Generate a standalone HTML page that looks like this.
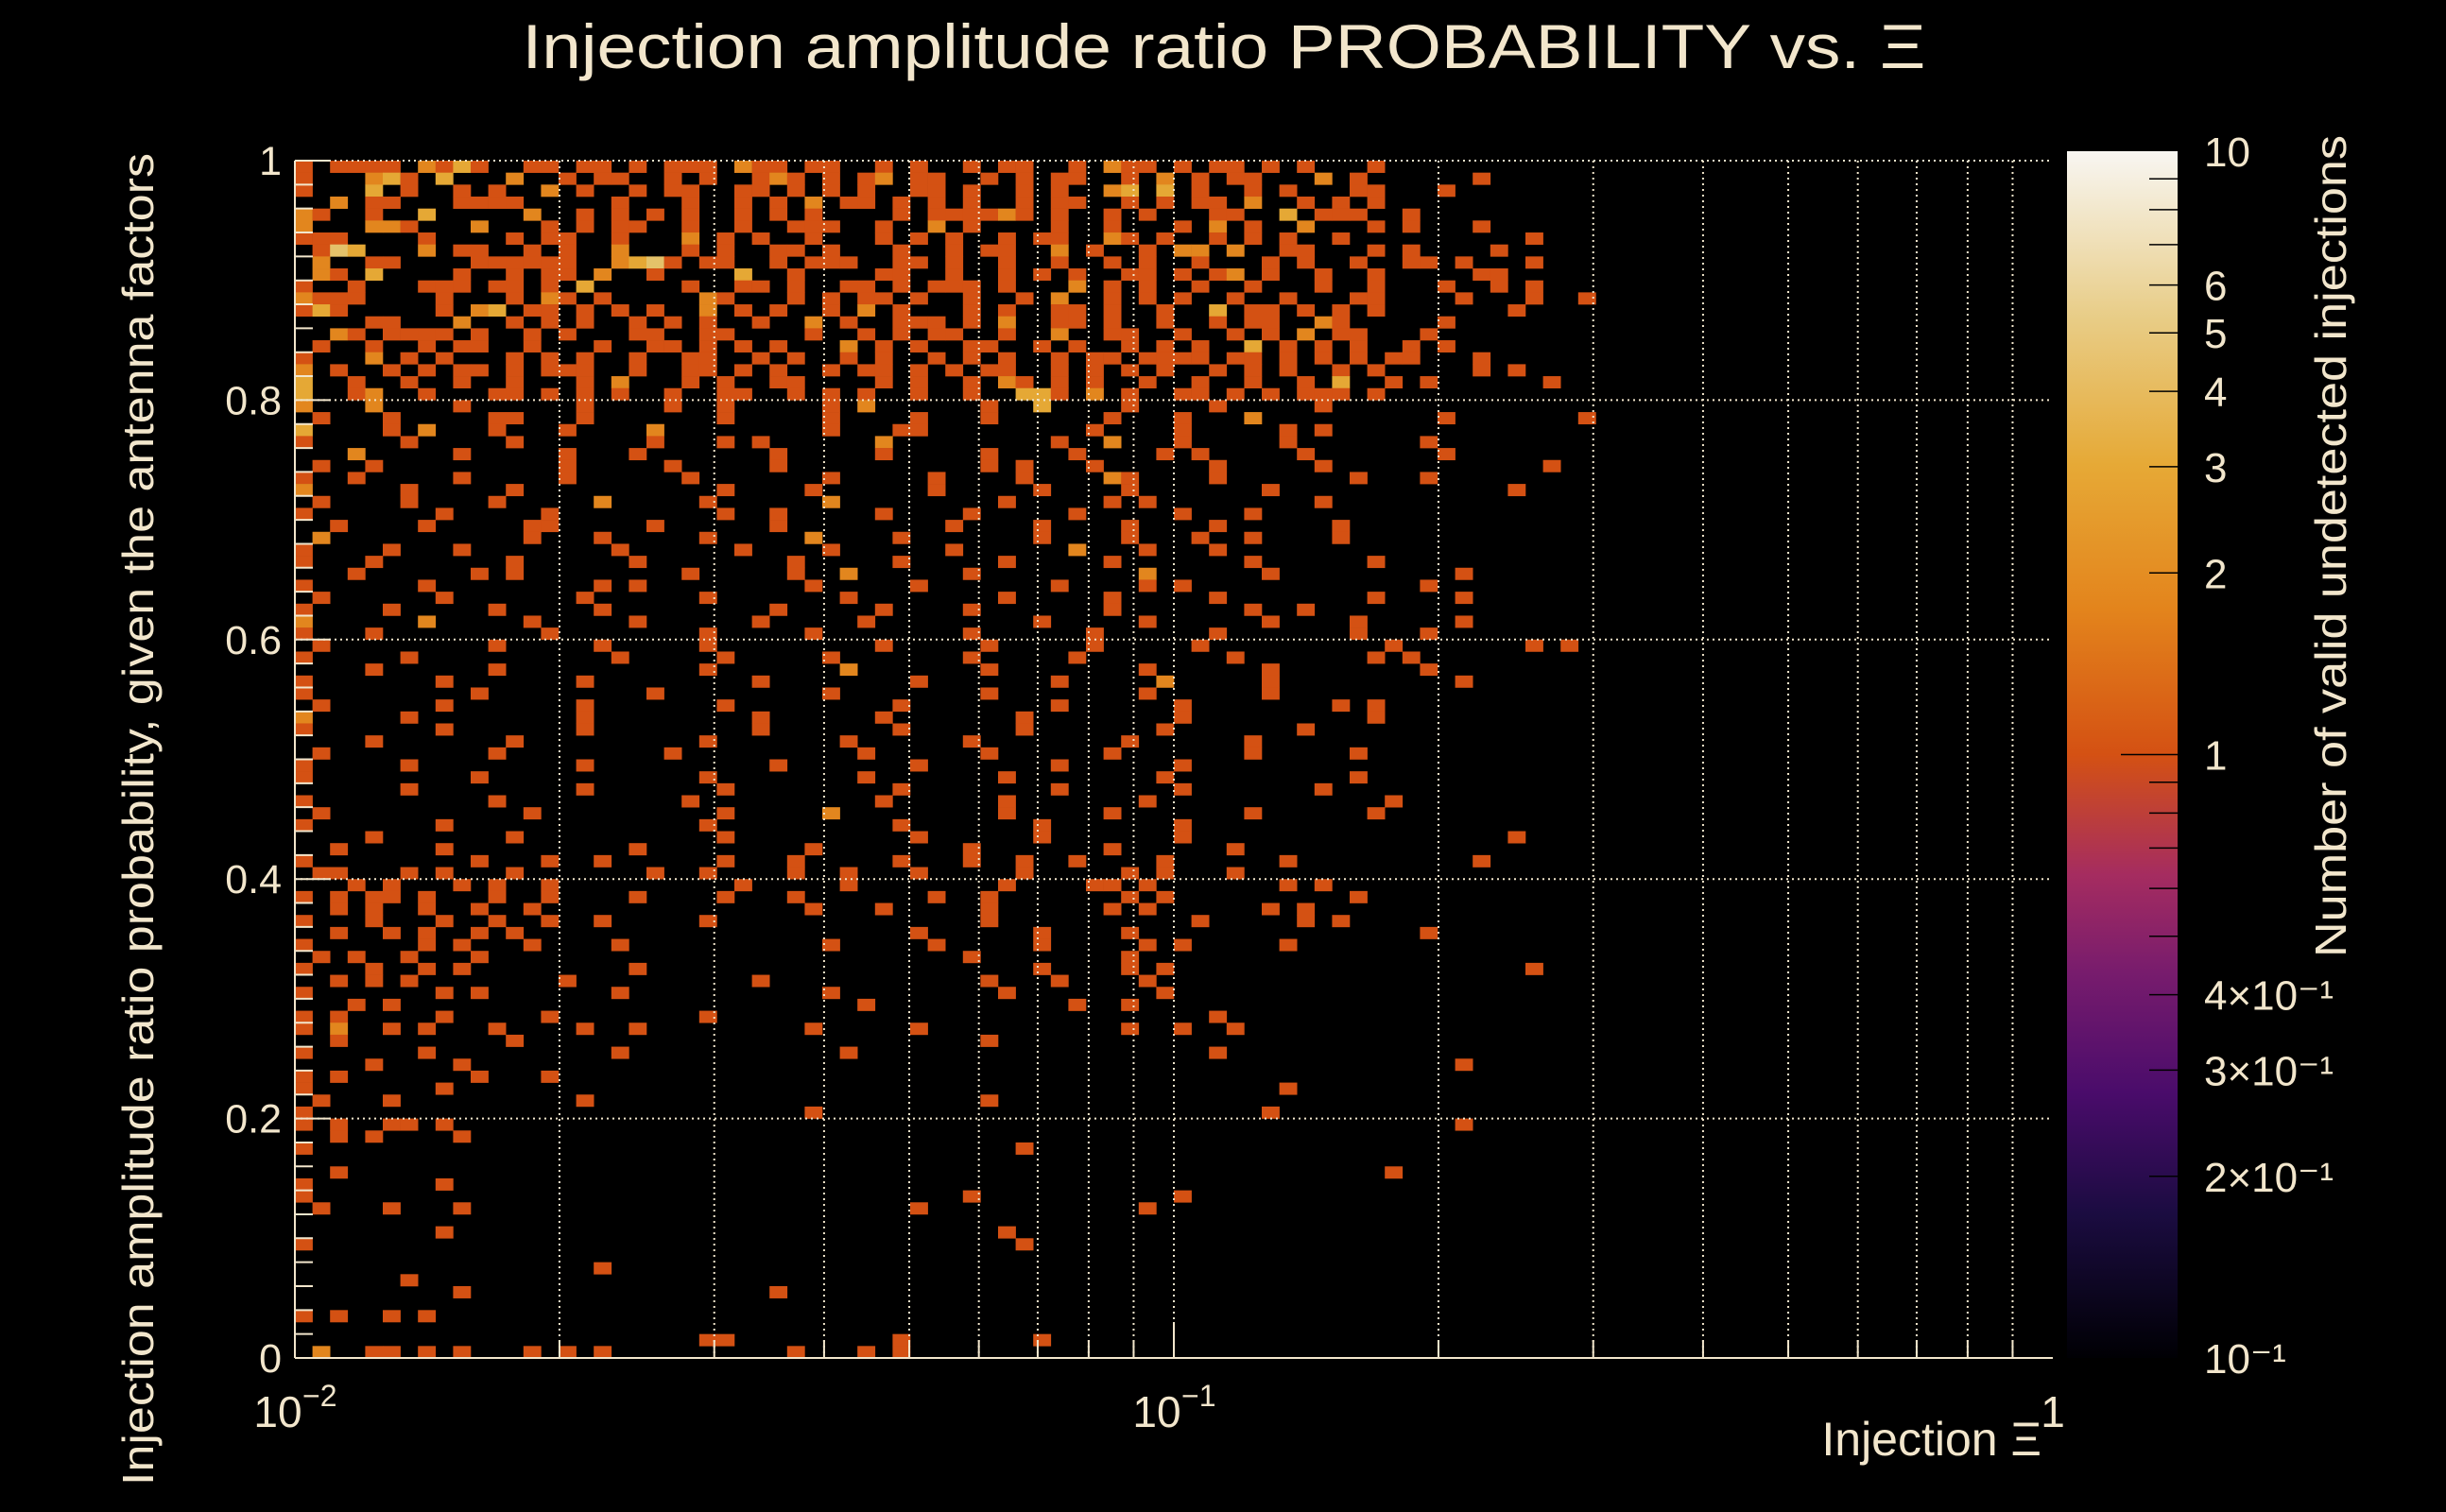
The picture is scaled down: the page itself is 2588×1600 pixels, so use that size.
<!DOCTYPE html>
<html><head><meta charset="utf-8">
<style>
html,body{margin:0;padding:0;background:#000;}
svg{display:block;}
text{font-family:"Liberation Sans",sans-serif;fill:#f2e6cc;}
</style></head>
<body>
<svg id="chart" width="2588" height="1600" viewBox="0 0 2588 1600" xmlns="http://www.w3.org/2000/svg">
<rect x="0" y="0" width="2588" height="1600" fill="#000"/>
<defs>
<linearGradient id="cbg" x1="0" y1="1" x2="0" y2="0">
<stop offset="0" stop-color="#000004"/>
<stop offset="0.12" stop-color="#1b0c41"/>
<stop offset="0.22" stop-color="#4a0c6b"/>
<stop offset="0.32" stop-color="#781c6d"/>
<stop offset="0.40" stop-color="#a52c60"/>
<stop offset="0.50" stop-color="#d45113"/>
<stop offset="0.62" stop-color="#e3841c"/>
<stop offset="0.74" stop-color="#e6a936"/>
<stop offset="0.86" stop-color="#e8cc85"/>
<stop offset="1" stop-color="#f8f6f2"/>
</linearGradient>
</defs>
<g id="cells"></g>
<g id="grid"></g>
<g id="axes"></g>
<text x="1295" y="72" font-size="66" text-anchor="middle" textLength="1485" lengthAdjust="spacingAndGlyphs">Injection amplitude ratio PROBABILITY vs.  Ξ</text>
<text transform="translate(162,867) rotate(-90)" font-size="46" text-anchor="middle" textLength="1410" lengthAdjust="spacingAndGlyphs">Injection amplitude ratio probability, given the antenna factors</text>
<text x="2160" y="1540" font-size="50" text-anchor="end">Injection Ξ</text>
<rect x="2187" y="160" width="117" height="1277" fill="url(#cbg)"/>
<g id="cbticks"></g>
<text transform="translate(2482,578) rotate(-90)" font-size="46" text-anchor="middle" textLength="870" lengthAdjust="spacingAndGlyphs">Number of valid undetected injections</text>
</svg>
<script>
// ---- data ----
const xBinMin = 0.01, xBinMax = 1, nXBins = 100;
const yBinMin = 0, yBinMax = 1, nYBins = 100;
// rows from top (y=1) downward; each char = count in that x-bin ('.' = 0)
const countRows = [
"1.1111.2131..11.11.1.111.211.11..1.1..1.11..1.211.1.11.1.1...1.................",
"1...231.3...2..1.11..1.1..121.1.12.11..1.1.11..1.2.1.11...2.1......1..........",
"1...3.1..1.1..2.1..1.11..11.1.1.1..11.1..1.1..23.3.1..1.1...11...1............",
"..2.11...1111.....1...1..1.1.2.11.1.1.1..1.11..1.1.11.2..1.1.1................",
"21..1..3.....2..1.1.1.1..1.1.1....1.111121.1..1.1...11..3.111..1..............",
"2...221...2...1.1.11..1..1..111..1..2.1....1..1...1.2.1..2...1.1...1..........",
"111....1....1.11..1...2.1.1..1...1.1.1..1.11..21.1..1.1.1..1..........1.......",
".143...2.11..1.1..2...1.1..11.1...1..1.11..2.1..1.22.2..11...1.1....1.........",
".2..11....111111..2341.11..1.111..11.1..1..1..1.1..1...1.1..1..11.1...1.......",
".21.3....1..1.11.2..1....3..1....11..1..1.1.1..11.1.12.1..1..1.....11.........",
"1..1...111.11.1.3.....1..11.1..11.1.111.1...2.1.1..1..1...1..1...1..1.1.......",
"2111....1...1.21.1.....21...1.1.11.1..1..1.2..1.1.1..1..1...11....1...1..1....",
"131.....1.23.11.1.1.1..2.1.1..1.2.1...1.1..11.1..1..3.11.1.1.1.......1.......",
"....11...2..1.1.1..1.1.1..1..2.1..111.1.2..11.1..1..1.11..21.....1............",
"..21.1111.1..1.1...11..11....1..1.1.11..1..2..11..1..1.1.2.11...1.............",
".1..1..1.11..1...1..11.1.1.1...2.1.1..11..1.1..1.1.1..3.1.1.1..1.1............",
"1...2.1.1...1.1.1..1..11..1.1..1.1..1.1.1..1.11.1111.11.1.1.1.11...1..........",
"2.1..1.1.11.1.111..1..11.1.1..1.11.1.1.11..1.1.1.1..1.1.1..1.1.....1.1........",
"3..1..1..1..1...1.2...1.1..11....1.1..1.21.1.1..1..1..1..1.3..1.1......1......",
"3..12..1...11.1.1.1..1..11..1.1.1..1..1..331.2.1..11.1.1.111.1................",
"2...2....1......1....1..1.....1.2......1..3....1....1.....1...........",
".1...1.....11...1.......1.....1....1...1......1...1...2..........1.......1....",
"3....1.2...1...1....2.........1...11.........1....1.....1.1..........",
"1.....1.....1.......1...1.1......2.........1..2...1.....1.......1.............",
"...2.....1.....1...1.......1.....1.....1....1....1.1.....1.......1..........",
".1..1..........1.....1.....1...........1.1...1......1.....1............1.....",
"1..1.....1.....1......1.......1.....1....1....21....1.......1...1............",
"2.....1.....1...........1....1......1.....1....1.......1.............1.........",
".1....1....1.....2.....1......2.........1.....1.1.........1...........",
"1.......1.....1.........1..1.....1....1.....1.....1...1.....................",
"..1....1.....11.....1......1.........1....1....1....1......1................",
".2...........1...1.....1.....2....1.......1....1...1..1....1...............",
"1....1...1........1......1....1......1......2...1...1.......................",
"1...1.......1......1........1.....1.....1.....1.......1......1..............",
"...1......1.1.........1.....1..2......1.........2......1..........1.........",
"1......1.........1.1.........1.....1.......1....1.1.............1............",
".1......1.......1......1.......1........1.....1.....1........1....1.........",
"1....1.....1.....1.........1.....1....1.......1.......1..1....................",
"2......2.....1.....1......1.....1.........1.....1......1....1.....1..........",
"1...1.........1........1.....1........1......1......1.......1...1..........",
".1.........1.....1.....1.........1.....1.....1.....1..........1.......1.1.....",
"1.....1...........1.....1.....1.......1.....1........1.......1.1..............",
"....1......1...........1.......2.......1........1......1........1............",
"1.......1.......1.........1........1.......1.....2.....1..........1..........",
"1.........1.........1.........1........1........1......1.............",
".1......1.......1.......1.........1........1......1........1.1.............",
"2.....1.........1.........1......1.......1........1..........1..............",
"1.......1.......1.........1.......1......1.......1.......1..............",
"....1.......1..........1.......1......1........1......1.......................",
".1.........1.........1..........1......1......1.......1.....1.............",
"1.....1.........1..........1.......1.......1......1........................",
"1.........1............1........1.......1........1..........1...............",
"......1.........1.......1.........1........1......1.......1.............",
"1..........1..........1..........1......1.......1.............1.............",
".1...........1..........1.....2.........1.....1.......1......1..............",
"1.......1..............1..........1.......1.......1......................",
"....1.......1...........1..........1......1.......1..................1....",
"..1.....1..........1.........1........1.......1......1...................",
"1.........1...1..1......1...1.....1...1..1..1....1......1..........1..........",
".11...1.1...1.......1..1....1..1...1.....1.....1.1...1........................",
"...1.1...1.1..1..........1.....1........1....11.1.......1.1...................",
"1.1.11.1...1..1....1....1...1.......1..1.......1.1..........1.................",
"..1.1..1..1..1...............1...1.....1......1.1......1.1....................",
"1...1...1..1..1..1.....1...............1...........1.....1.1..................",
"..1..1.1..1.1......................1......1....1................1.............",
"1......1.1...1....1...........1.....1.....1.....1.1.....1.....................",
".1.1..1...1...........................1........1..............................",
"1...1..1.1.........1......................1....1.1....................1.......",
"..1.1.1........1..........1............1...1....1.............................",
"1.......1.1.......1...........1.........1........1............................",
"...1.1..........................1...........1..1..............................",
"1.1.....1.....1........1............................1.........................",
"1.2..1.1...1....1..1.........1.....1...........1..1..1........................",
"..1.........1..........................1.......................................",
"1......1..........1............1....................1........................",
"....1....1........................................................1............",
"1.1.......1...1................................................................",
"1.......1...............................................1.......................",
".1...1..........1......................1.......................................",
"1............................1.........................1.....................",
"1.1..11.1.........................................................1............",
"..1.1....1.........................................................................",
"1........................................1.......................................",
"..............................................................................",
"..1...........................................................1...............",
"1.......1...................................................................",
"1.....................................1...........1.........................",
".1...1...1.........................1............1...........................",
"...........................................................................",
"........1...............................1....................................",
"1........................................1................................",
"..........................................................................",
".................1...................................................",
"......1.....................................................................",
".........1.................1..................................................",
"..............................................................................",
"1.1..1.1.....................................................................",
"..............................................................................",
".......................11.........1.......1...................................",
".2..11.1.1...1.1.1..........1...1.1..........................................."
];
const cbTickValues = [10, 6, 5, 4, 3, 2, 1, 0.4, 0.3, 0.2, 0.1];
const cbTickLabels = ["10", "6", "5", "4", "3", "2", "1", "4×10⁻¹", "3×10⁻¹", "2×10⁻¹", "10⁻¹"];
const yTickValues = [0, 0.2, 0.4, 0.6, 0.8, 1];
const yTickLabels = ["0", "0.2", "0.4", "0.6", "0.8", "1"];
const xMajorValues = [0.01, 0.1, 1];

// ---- geometry ----
const L = 312, R = 2172, T = 170, B = 1437;
const CB_T = 160, CB_B = 1437, CB_X = 2187, CB_W = 117;
const NS = "http://www.w3.org/2000/svg";
function xScale(v){ return L + (Math.log10(v) - Math.log10(xBinMin)) / (Math.log10(xBinMax) - Math.log10(xBinMin)) * (R - L); }
function yScale(v){ return B - (v - yBinMin) / (yBinMax - yBinMin) * (B - T); }
function zScale(v){ return CB_B - (Math.log10(v) + 1) / 2 * (CB_B - CB_T); }
function colorFor(n){
  if (n <= 1) return "#d45113";
  if (n === 2) return "#e2861e";
  if (n === 3) return "#e5a835";
  if (n === 4) return "#e4c26a";
  return "#ece0b8";
}
function mk(tag, attrs, parent){
  const e = document.createElementNS(NS, tag);
  for (const k in attrs) e.setAttribute(k, attrs[k]);
  parent.appendChild(e);
  return e;
}
const cells = document.getElementById("cells");
const lx = Math.log10(xBinMin), dx = (Math.log10(xBinMax) - lx) / nXBins;
const dy = (yBinMax - yBinMin) / nYBins;
countRows.forEach((row, i) => {
  const yb = nYBins - 1 - i;
  for (let c = 0; c < row.length && c < nXBins; c++) {
    const ch = row[c];
    if (ch === '.') continue;
    const n = parseInt(ch, 10);
    const x0 = xScale(Math.pow(10, lx + c * dx)), x1 = xScale(Math.pow(10, lx + (c + 1) * dx));
    const y0 = yScale(yBinMin + (yb + 1) * dy), y1 = yScale(yBinMin + yb * dy);
    const r = mk("rect", {x: x0.toFixed(2), y: y0.toFixed(2), width: (x1 - x0 + 0.3).toFixed(2), height: (y1 - y0 + 0.3).toFixed(2), fill: colorFor(n)}, cells);
    
    
  }
});

// grid
const grid = document.getElementById("grid");
for (let d = -2; d < 0; d++) {
  for (let m = 1; m <= 9; m++) {
    const v = m * Math.pow(10, d);
    if (m === 1 && d === -2) continue;
    const x = xScale(v);
    const g = mk("line", {x1: x, x2: x, y1: T, y2: B, stroke: "#f2e6cc", "stroke-width": 2, "stroke-dasharray": "2 4"}, grid);
    
    
  }
}
yTickValues.forEach(v => {
  if (v === 0) return;
  const y = yScale(v);
  const g = mk("line", {x1: L, x2: R, y1: y, y2: y, stroke: "#f2e6cc", "stroke-width": 2, "stroke-dasharray": "2 4"}, grid);
  
  
});

// axes
const axes = document.getElementById("axes");
const ax1 = mk("line", {x1: L, x2: R, y1: B, y2: B, stroke: "#f2e6cc", "stroke-width": 2}, axes);


const ax2 = mk("line", {x1: L, x2: L, y1: T, y2: B, stroke: "#f2e6cc", "stroke-width": 2}, axes);


for (let k = 0; k <= 50; k++) {
  const y = yScale(k * 0.02);
  const len = (k % 10 === 0) ? 38 : 19;
  const t = mk("line", {x1: L, x2: L + len, y1: y, y2: y, stroke: "#f2e6cc", "stroke-width": 2}, axes);
  
  
}
yTickValues.forEach((v, i) => {
  const t = mk("text", {x: 298, y: yScale(v) + 15, "font-size": 43, "text-anchor": "end"}, axes);
  t.textContent = yTickLabels[i];
  
  
});
for (let d = -2; d < 0; d++) {
  for (let m = 1; m <= 9; m++) {
    const x = xScale(m * Math.pow(10, d));
    const len = m === 1 ? 38 : 19;
    const t = mk("line", {x1: x, x2: x, y1: B, y2: B - len, stroke: "#f2e6cc", "stroke-width": 2}, axes);
    
    
  }
}
const xLabelText = [["10","−2"],["10","−1"],["1",""]];
xMajorValues.forEach((v, i) => {
  const t = mk("text", {x: xScale(v) - (i === 2 ? 0 : 18), y: 1510, "font-size": 46, "text-anchor": "middle"}, axes);
  t.textContent = xLabelText[i][0];
  
  
  if (xLabelText[i][1]) {
    const s = mk("text", {x: xScale(v) + 8, y: 1488, "font-size": 32}, axes);
    s.textContent = xLabelText[i][1];
    
    
  }
});
const cbt = document.getElementById("cbticks");
const minorCb = [0.2,0.3,0.4,0.5,0.6,0.7,0.8,0.9,1,2,3,4,5,6,7,8,9];
minorCb.forEach(v => {
  const y = zScale(v);
  const len = v === 1 ? 60 : 30;
  const t = mk("line", {x1: CB_X + CB_W - len, x2: CB_X + CB_W, y1: y, y2: y, stroke: "#000", "stroke-width": 1.5}, cbt);
  
  
});
cbTickValues.forEach((v, i) => {
  const t = mk("text", {x: 2332, y: zScale(v) + 16, "font-size": 44}, cbt);
  t.textContent = cbTickLabels[i];
  
  
});
</script>
</body></html>
